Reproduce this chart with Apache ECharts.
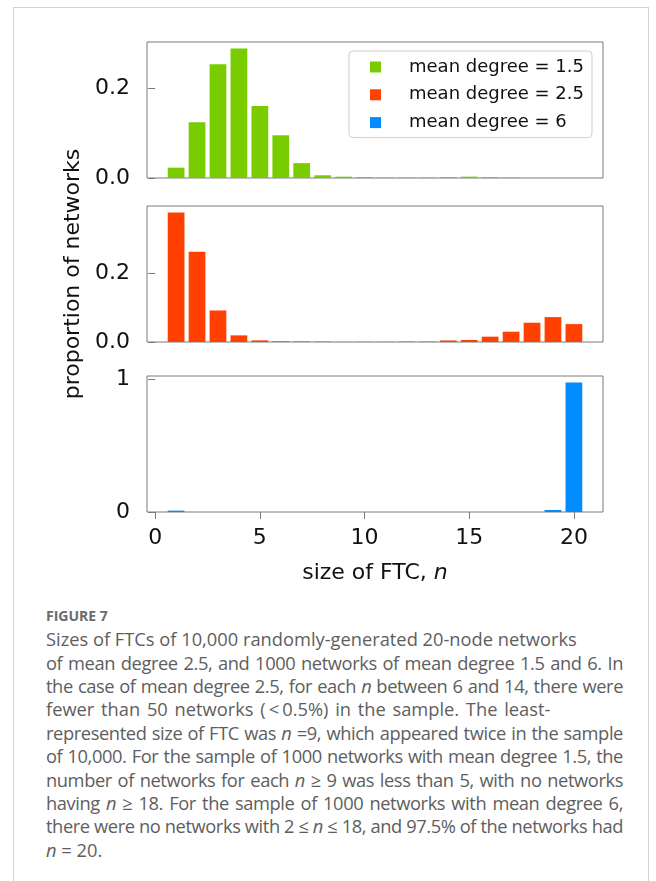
<!DOCTYPE html>
<html>
<head>
<meta charset="utf-8">
<script src="https://cdn.jsdelivr.net/npm/echarts@6/dist/echarts.min.js"></script>
<style>
  html, body { margin: 0; padding: 0; background: #fff; }
  #frame { position: absolute; left: 13px; top: 7px; width: 636px; height: 900px;
           border: 1px solid #d2d2d2; box-sizing: border-box; }
  #chart { position: absolute; left: 0; top: 0; width: 656px; height: 590px; }
  #caption { position: absolute; left: 46px; top: 603.6px; width: 577px;
             font-family: "Open Sans", sans-serif; color: #5e5e5e; }
  #caption .fig { font-weight: 700; font-size: 14px; line-height: 23.6px; color: #6b6b6b; }
  #caption .ln { font-size: 18.3px; line-height: 23.4px; white-space: nowrap; }
  #caption .j { white-space: normal; letter-spacing: -0.4px; word-spacing: -1px;
                text-align: justify; text-align-last: justify; }
  #caption .w { word-spacing: 2px; }
</style>
</head>
<body>
<div id="frame"></div>
<div id="chart"></div>
<div id="caption">
  <div class="fig">FIGURE 7</div>
  <div class="ln">Sizes of FTCs of 10,000 randomly-generated 20-node networks</div>
  <div class="ln j">of mean degree 2.5, and 1000 networks of mean degree 1.5 and 6. In</div>
  <div class="ln j">the case of mean degree 2.5, for each <i>n</i> between 6 and 14, there were</div>
  <div class="ln w">fewer than 50 networks (&thinsp;&lt;&thinsp;0.5%) in the sample. The least-</div>
  <div class="ln j">represented size of FTC was <i>n</i> =9, which appeared twice in the sample</div>
  <div class="ln j">of 10,000. For the sample of 1000 networks with mean degree 1.5, the</div>
  <div class="ln j">number of networks for each <i>n</i> ≥ 9 was less than 5, with no networks</div>
  <div class="ln j">having <i>n</i> ≥ 18. For the sample of 1000 networks with mean degree 6,</div>
  <div class="ln j">there were no networks with 2 ≤ <i>n</i> ≤ 18, and 97.5% of the networks had</div>
  <div class="ln"><i>n</i> = 20.</div>
</div>
<script>
// FTC sizes n = 1..20
const sizes = [1, 2, 3, 4, 5, 6, 7, 8, 9, 10, 11, 12, 13, 14, 15, 16, 17, 18, 19, 20];

// proportion of networks for each FTC size
const degree15 = [0.023, 0.124, 0.253, 0.288, 0.160, 0.095, 0.033, 0.006, 0.003, 0.002,
                  0.001, 0.001, 0.001, 0.002, 0.003, 0.002, 0.001, 0, 0, 0];
const degree25 = [0.375, 0.2615, 0.0913, 0.0192, 0.0048, 0.002, 0.0015, 0.001, 0.0002, 0.0005,
                  0.0005, 0.001, 0.001, 0.0045, 0.0058, 0.0154, 0.0298, 0.0558, 0.0721, 0.0519];
const degree6  = [0.01, 0, 0, 0, 0, 0, 0, 0, 0, 0,
                  0, 0, 0, 0, 0, 0, 0, 0, 0.015, 0.975];

const seriesNames = ['mean degree = 1.5', 'mean degree = 2.5', 'mean degree = 6'];
const seriesColors = ['#78cc00', '#ff4000', '#008cff'];

const xTicks = [0, 5, 10, 15, 20];
const yTicksSmall = [0, 0.2];
const yTicksUnit = [0, 1];

const FONT = 'DejaVu Sans';
const AXIS_COLOR = '#7a7a7a';
const BAR_WIDTH = 0.8;
const X_MIN = -0.39, X_MAX = 21.39;

const panels = [degree15, degree25, degree6];
const gridTops = [42, 206, 376];

const chart = echarts.init(document.getElementById('chart'));

// one bar of width BAR_WIDTH centred on n, drawn through the panel's axes
function barItem(params, api) {
  const n = api.value(0);
  const v = api.value(1);
  const a = api.coord([n - BAR_WIDTH / 2, v]);
  const b = api.coord([n + BAR_WIDTH / 2, 0]);
  return {
    type: 'rect',
    shape: { x: a[0], y: a[1], width: b[0] - a[0], height: b[1] - a[1] },
    style: { fill: api.visual('color') }
  };
}

const grids = gridTops.map(top => ({
  left: 147, top: top, width: 456, height: 136,
  show: true, borderColor: AXIS_COLOR, borderWidth: 1,
  backgroundColor: 'transparent', outerBoundsMode: 'none'
}));

const xAxes = panels.map((_, i) => {
  const last = i === panels.length - 1;
  return {
    type: 'value', gridIndex: i, min: X_MIN, max: X_MAX,
    axisLine: { show: false },
    splitLine: { show: false },
    axisTick: { show: last, length: 7, customValues: xTicks,
                lineStyle: { color: AXIS_COLOR, width: 1 } },
    axisLabel: { show: last, customValues: xTicks, margin: 15,
                 fontFamily: FONT, fontSize: 22, color: '#111' },
    name: last ? '{a|size of FTC, }{b|n}' : '',
    nameLocation: 'middle', nameGap: 50,
    nameTextStyle: {
      rich: {
        a: { fontFamily: FONT, fontSize: 22, color: '#111' },
        b: { fontFamily: FONT, fontSize: 22, color: '#111', fontStyle: 'italic' }
      }
    }
  };
});

const yAxes = panels.map((data, i) => {
  const unit = i === 2;
  const ticks = unit ? yTicksUnit : yTicksSmall;
  return {
    type: 'value', gridIndex: i, min: 0, max: Math.max(...data) * 1.05,
    axisLine: { show: false },
    splitLine: { show: false },
    axisTick: { show: true, length: 7, customValues: ticks,
                lineStyle: { color: AXIS_COLOR, width: 1 } },
    axisLabel: { customValues: ticks, margin: 17, fontFamily: FONT, fontSize: 22, color: '#111',
                 formatter: v => unit ? String(v) : v.toFixed(1) },
    name: i === 1 ? 'proportion of networks' : '',
    nameLocation: 'middle', nameRotate: 90, nameGap: 61,
    nameTextStyle: { fontFamily: FONT, fontSize: 22, color: '#111' }
  };
});

const series = panels.map((data, i) => ({
  type: 'custom',
  name: seriesNames[i],
  xAxisIndex: i, yAxisIndex: i,
  itemStyle: { color: seriesColors[i] },
  renderItem: barItem,
  encode: { x: 0, y: 1 },
  data: sizes.map((n, k) => [n, data[k]])
}));

chart.setOption({
  animation: false,
  grid: grids,
  xAxis: xAxes,
  yAxis: yAxes,
  legend: {
    data: seriesNames.map(name => ({ name: name, icon: 'rect' })),
    orient: 'vertical', left: 349, top: 51,
    itemWidth: 11, itemHeight: 11, itemGap: 9.8,
    padding: [7, 8, 6, 21],
    backgroundColor: 'rgba(255,255,255,0.85)',
    borderColor: '#cfcfcf', borderWidth: 1, borderRadius: 4,
    selectedMode: false,
    textStyle: { fontFamily: FONT, fontSize: 18, color: '#111', lineHeight: 18,
                 padding: [0, 0, 0, 23] }
  },
  series: series
});
</script>
</body>
</html>
